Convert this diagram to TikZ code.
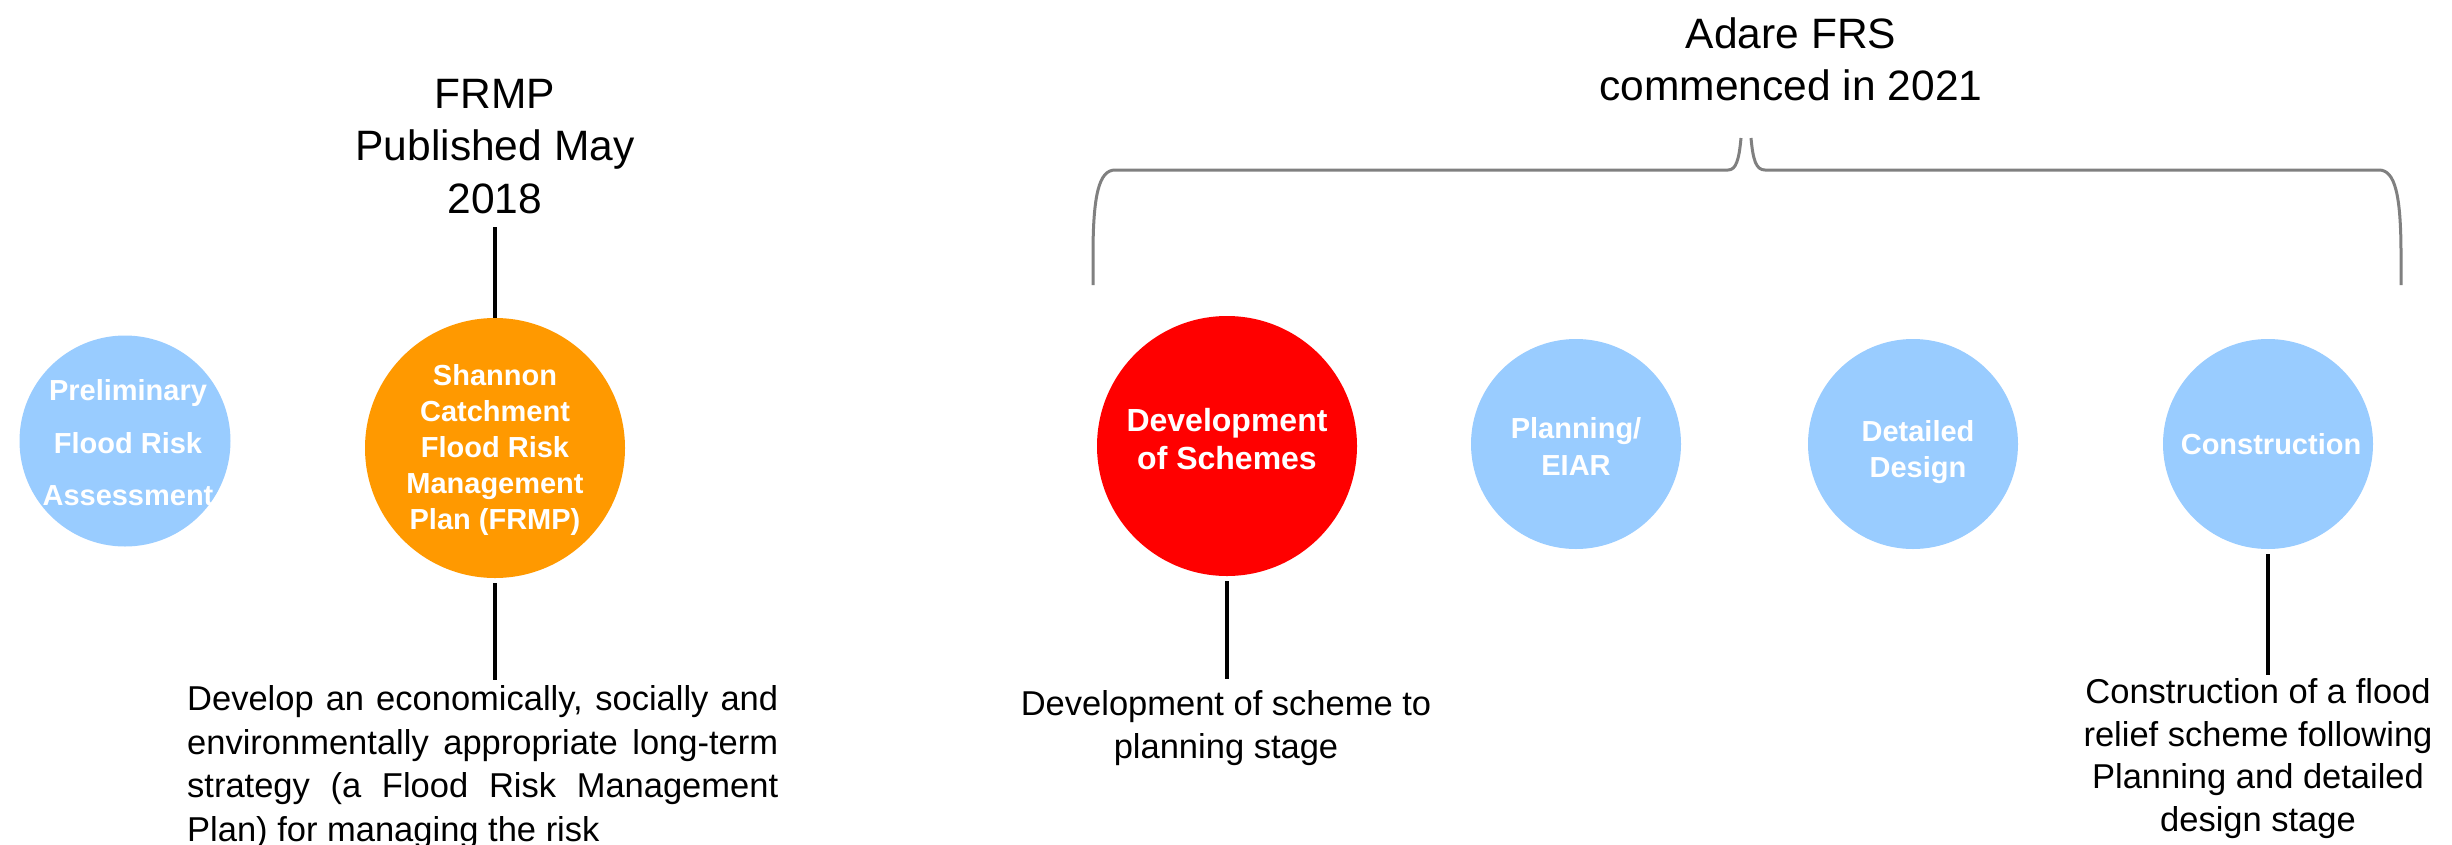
\documentclass[tikz,border=0pt]{standalone}
\usepackage{fontspec}
\setmainfont{Liberation Sans}
\definecolor{lblue}{RGB}{153,204,255}
\definecolor{orng}{RGB}{255,153,0}
\definecolor{bred}{RGB}{255,0,0}
\definecolor{bracegray}{RGB}{128,128,128}
\begin{document}
\begin{tikzpicture}[x=1pt,y=-1pt,
  bub/.style={circle,draw=none,inner sep=0pt,minimum size=#1},
  lbl/.style={text=white,align=center,inner sep=0pt},
  title/.style={font=\fontsize{42.5}{52.5}\selectfont,align=center,inner sep=0pt,anchor=north},
  body/.style={font=\fontsize{34.5}{42.5}\selectfont,align=center,inner sep=0pt,anchor=north},
  stem/.style={line width=4.5pt,black},
  brace/.style={line width=3pt,bracegray}]
\fill[white] (0,0) rectangle (2452,844);
\useasboundingbox (0,0) rectangle (2452,844);

% bubbles
\node[bub=211pt,fill=lblue,label={[lbl,xshift=3pt,yshift=-2pt,font=\bfseries\fontsize{29}{52.5}\selectfont]center:{Preliminary\\Flood Risk\\Assessment}}] (pfra) at (125,441) {};
\node[bub=260pt,fill=orng,label={[lbl,yshift=-1.5pt,font=\bfseries\fontsize{29}{36}\selectfont]center:{Shannon\\Catchment\\Flood Risk\\Management\\Plan (FRMP)}}] (frmp) at (495,448) {};
\node[bub=260pt,fill=bred,label={[lbl,yshift=6.5pt,font=\bfseries\fontsize{32}{38}\selectfont]center:{Development\\of Schemes}}] (dev) at (1227,446) {};
\node[bub=210pt,fill=lblue,label={[lbl,yshift=-2pt,font=\bfseries\fontsize{29}{37}\selectfont]center:{Planning/\\EIAR}}] (plan) at (1576,444) {};
\node[bub=210pt,fill=lblue,label={[lbl,xshift=5pt,yshift=-8pt,font=\bfseries\fontsize{29}{36}\selectfont]center:{Detailed\\Design}}] (det) at (1913,444) {};
\node[bub=210pt,fill=lblue,label={[lbl,xshift=3pt,font=\bfseries\fontsize{29}{36}\selectfont]center:{Construction}}] (cons) at (2268,444) {};

% titles
\node[title] (frmpt) at (495,78.6) {FRMP\\Published May\\2018};
\node[title,font=\fontsize{42.5}{52}\selectfont] (adare) at (1791,17.6) {Adare FRS\\commenced in 2021};

% descriptions
\node[body,anchor=north west,text width=591pt,align=justify,font=\fontsize{34.5}{43.5}\selectfont] (frmpd) at (187,685.3)
  {\tolerance=10000 Develop an economically, socially and\linebreak environmentally appropriate long-term\linebreak strategy (a Flood Risk Management\linebreak Plan) for managing the risk};
\node[body] (devd) at (1226,690.3) {Development of scheme to\\planning stage};
\node[body] (consd) at (2258,678.3) {Construction of a flood\\relief scheme following\\Planning and detailed\\design stage};

% stems
\coordinate (frmptop) at (495,227);
\coordinate (frmpbot) at (495,680);
\coordinate (devbot) at (1227,679);
\coordinate (consbot) at (2268,675);
\draw[stem] (frmptop) -- (frmp.north);
\draw[stem] ([yshift=-5pt]frmp.south) -- (frmpbot);
\draw[stem] ([yshift=-5pt]dev.south) -- (devbot);
\draw[stem] ([yshift=-5pt]cons.south) -- (consbot);

% brace
\coordinate (bl) at (1093,285);
\coordinate (br) at (2401,285);
\coordinate (tipl) at (1741,138);
\coordinate (tipr) at (1751,138);
\draw[brace] (bl) -- (1093,255) .. controls (1093,195) and (1099,170) .. (1115,170) -- (1728,170) .. controls (1736,170) and (1739,160) .. (tipl);
\draw[brace] (tipr) .. controls (1753,160) and (1756,170) .. (1765,170) -- (2379,170) .. controls (2395,170) and (2401,195) .. (2401,255) -- (br);
\end{tikzpicture}
\end{document}
